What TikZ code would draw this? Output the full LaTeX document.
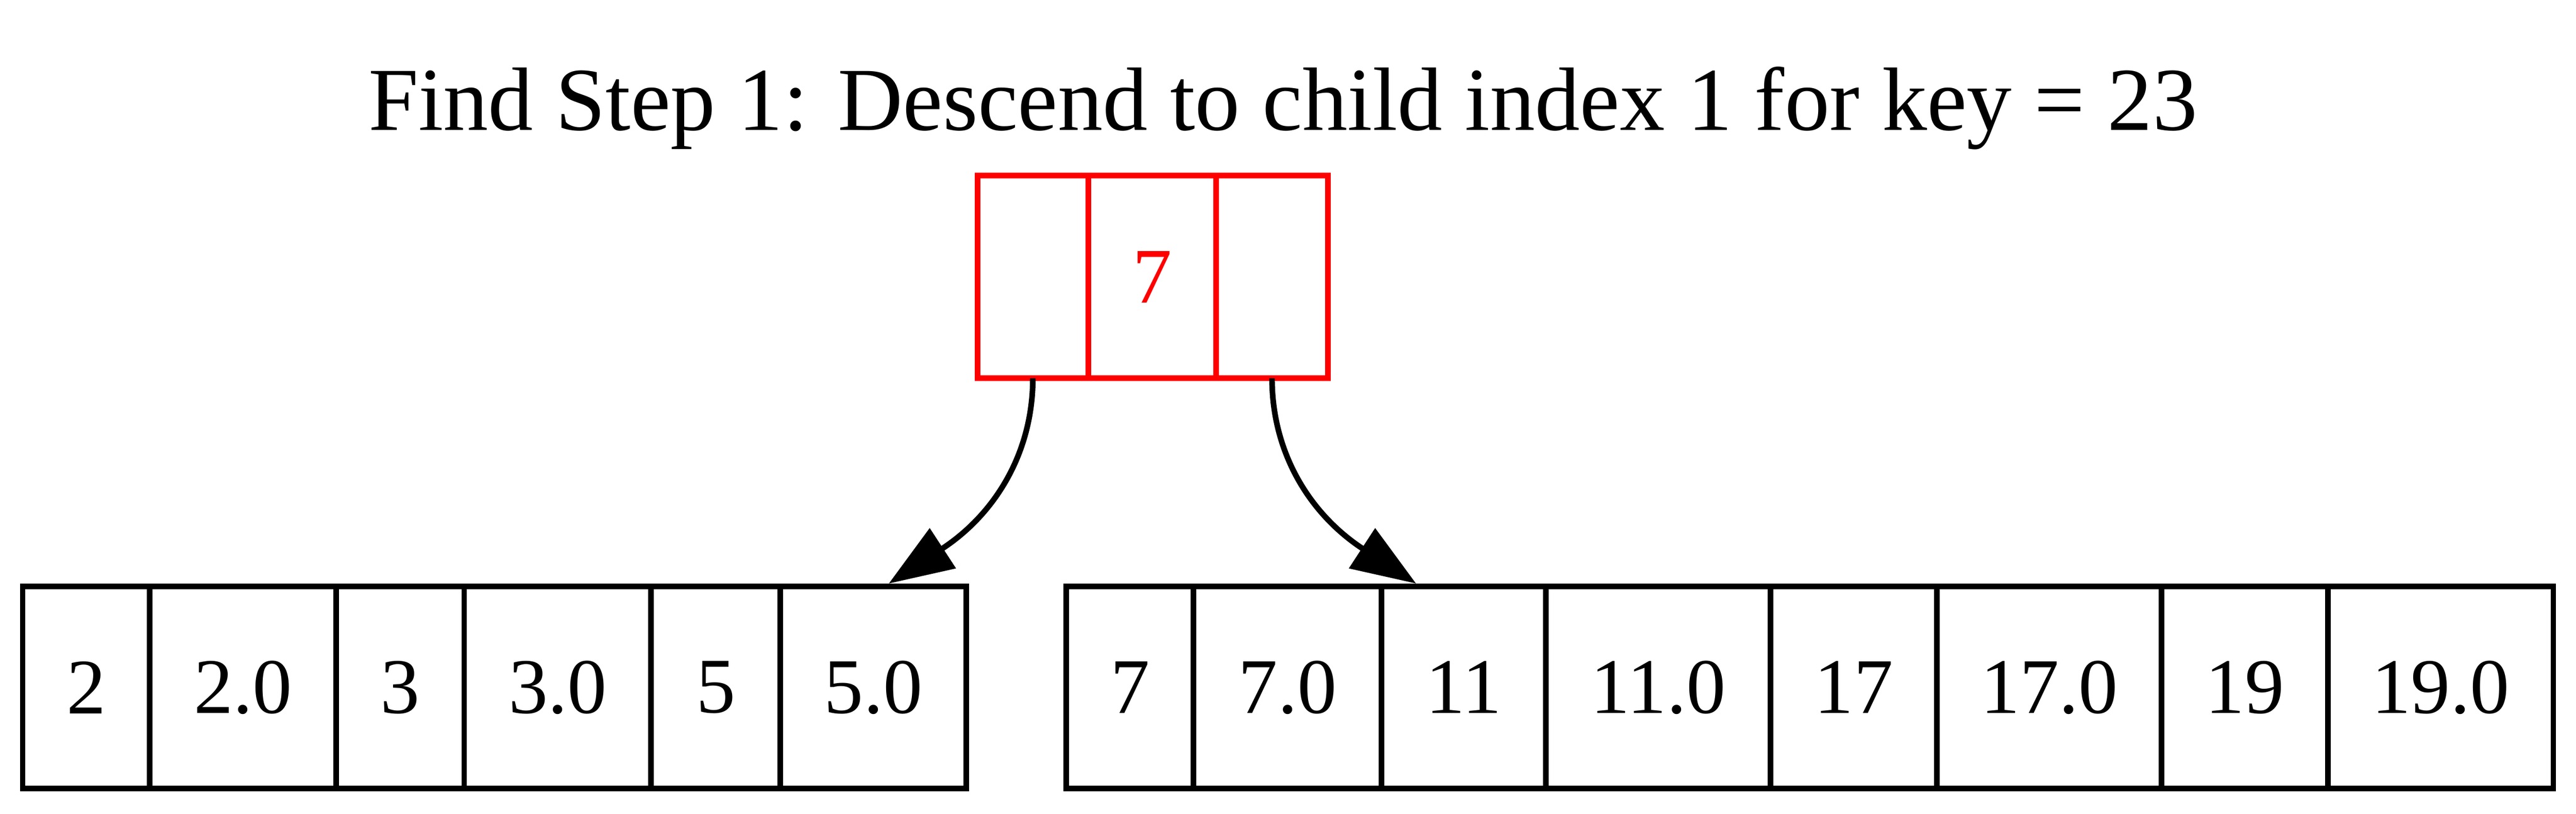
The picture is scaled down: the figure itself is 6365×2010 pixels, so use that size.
\documentclass[tikz,border=0pt]{standalone}
\usepackage{fontspec}
\setmainfont{Liberation Serif}
\usetikzlibrary{arrows.meta}
\tikzset{
  cell/.style={draw, line width=1pt, inner sep=0pt, outer sep=0pt, font=\fontsize{14}{16}\selectfont},
  w/.style={minimum width=#1*0.072pt},
  childcell/.style={cell, minimum height=499*0.072pt},
  rootcell/.style={cell, draw=red, text=red, minimum height=500*0.072pt},
  edge/.style={line width=1pt, -{Triangle[length=11.5pt,width=8.3pt]}},
  titlestyle/.style={font=\fontsize{16}{19}\selectfont, inner sep=0pt, anchor=base}
}
\begin{document}
\begin{tikzpicture}[x=0.072pt, y=-0.072pt]
\useasboundingbox (0,0) rectangle (6365,2010);
% title
\node[titlestyle] (title) at (3170,322) {Find Step 1: Descend to child index 1 for key = 23};
% root node
\node[rootcell, w=274] (T0) at (2552,684) {};
\node[rootcell, w=316] (T1) at (2847,684) {7};
\node[rootcell, w=276] (T2) at (3143,684) {};
% left child
\node[childcell, w=314] (L0) at (213,1697.5) {2};
\node[childcell, w=461] (L1) at (600.5,1697.5) {2.0};
\node[childcell, w=316] (L2) at (989,1697.5) {3};
\node[childcell, w=462] (L3) at (1378,1697.5) {3.0};
\node[childcell, w=319] (L4) at (1768.5,1697.5) {5};
\node[childcell, w=460] (L5) at (2158,1697.5) {5.0};
% right child
\node[childcell, w=314] (R0) at (2792,1697.5) {7};
\node[childcell, w=465] (R1) at (3181.5,1697.5) {7.0};
\node[childcell, w=406] (R2) at (3617,1697.5) {11};
\node[childcell, w=555] (R3) at (4097.5,1697.5) {11.0};
\node[childcell, w=411] (R4) at (4580.5,1697.5) {17};
\node[childcell, w=555] (R5) at (5063.5,1697.5) {17.0};
\node[childcell, w=411] (R6) at (5546.5,1697.5) {19};
\node[childcell, w=557] (R7) at (6030.5,1697.5) {19.0};
% edge end points on the children's top borders
\coordinate (tipL) at ([xshift=38*0.072pt, yshift=0.5pt]L5.north);
\coordinate (tipR) at ([xshift=-118*0.072pt, yshift=0.5pt]R2.north);
% edges
\draw[edge] (T0.south) .. controls +(0,185) and +(262,-171) .. (tipL);
\draw[edge] (T2.south) .. controls +(0,185) and +(-262,-171) .. (tipR);
\end{tikzpicture}
\end{document}
